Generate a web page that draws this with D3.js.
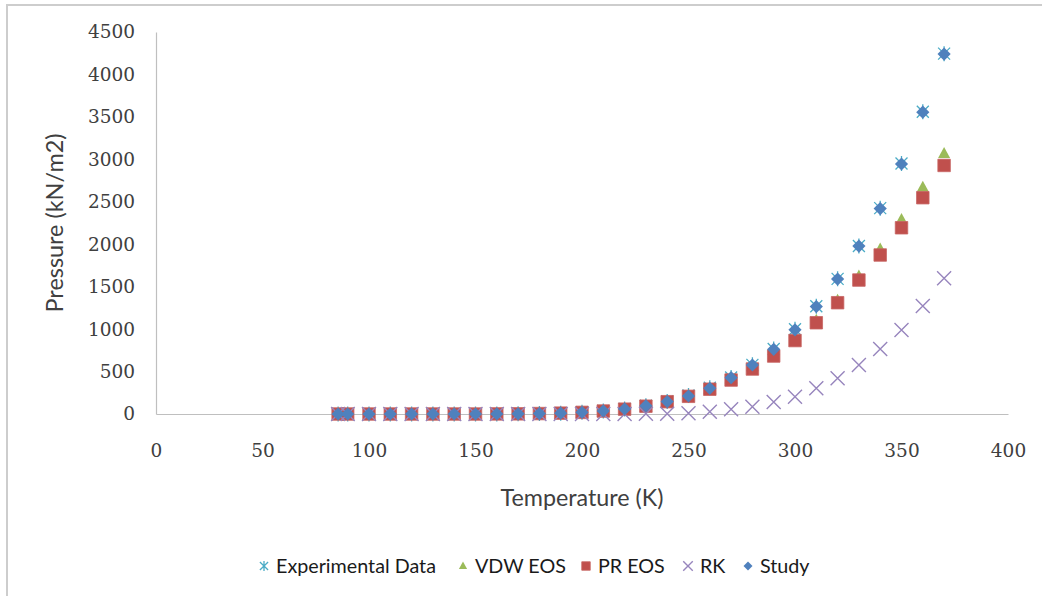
<!DOCTYPE html>
<html>
<head>
<meta charset="utf-8">
<script src="https://cdn.jsdelivr.net/npm/d3@7"></script>
<style>
  html, body { margin: 0; padding: 0; background: #fff; }
  svg { display: block; }
</style>
</head>
<body>
<svg id="chart" width="1042" height="596"></svg>
<script>
// Propane vapour pressure: measured data and equation-of-state predictions
const temperatures = [85.5, 90, 100, 110, 120, 130, 140, 150, 160, 170, 180, 190, 200, 210, 220,
                      230, 240, 250, 260, 270, 280, 290, 300, 310, 320, 330, 340, 350, 360, 370];
const experimentalData = [0, 0, 0, 0, 0, 0, 0.1, 0.3, 1, 2, 5, 10, 20, 35, 60,
                          97, 147, 218, 310, 430, 579, 765, 998, 1270, 1592, 1980, 2425, 2950, 3560, 4245];
const vdwEos = [0, 0, 0, 0, 0, 0, 0, 0, 1, 2, 5, 10, 19, 35, 58,
                94, 148, 215, 300, 415, 550, 705, 885, 1105, 1341, 1625, 1945, 2290, 2670, 3070];
const prEos = [0, 0, 0, 0, 0, 0, 0, 0, 1, 2, 5, 10, 19, 35, 57,
               92, 145, 208, 292, 400, 530, 683, 865, 1075, 1311, 1578, 1873, 2194, 2548, 2928];
const rkEos = [0, 0, 0, 0, 0, 0, 0, 0, 0, 0, 0, 0, 0, 0, 1,
               2, 4, 9, 27, 56, 86, 142, 204, 303, 420, 577, 766, 989, 1272, 1598];
const studyData = [0, 0, 0, 0, 0, 0, 0, 0, 1, 2, 5, 10, 20, 36, 60,
                   96, 146, 212, 303, 428, 577, 762, 992, 1266, 1590, 1978, 2420, 2945, 3555, 4240];

const xTicks = [0, 50, 100, 150, 200, 250, 300, 350, 400];
const yTicks = [0, 500, 1000, 1500, 2000, 2500, 3000, 3500, 4000, 4500];
const seriesNames = ["Experimental Data", "VDW EOS", "PR EOS", "RK", "Study"];

const xTitle = "Temperature (K)";
const yTitle = "Pressure (kN/m2)";

// Marker shapes, centred on the origin
const markerShapes = {
  asterisk: "M-6,-6L6,6M-6,6L6,-6M0,-7.5V7.5",
  triangle: "M0,-6.5L6,4.5L-6,4.5Z",
  square: "M-6.25,-6.25h12.5v12.5h-12.5Z",
  cross: "M-7,-7L7,7M-7,7L7,-7",
  diamond: "M0,-6.6L6.6,0L0,6.6L-6.6,0Z"
};

const series = [
  { name: seriesNames[0], values: experimentalData, shape: "asterisk", fill: "none", stroke: "#4BACC6", width: 1.3 },
  { name: seriesNames[1], values: vdwEos, shape: "triangle", fill: "#9BBB59", stroke: "none", width: 0 },
  { name: seriesNames[2], values: prEos, shape: "square", fill: "#C0504D", stroke: "#c86563", width: 0.8 },
  { name: seriesNames[3], values: rkEos, shape: "cross", fill: "none", stroke: "#9785bd", width: 1.4 },
  { name: seriesNames[4], values: studyData, shape: "diamond", fill: "#4F81BD", stroke: "none", width: 0 }
];

const svg = d3.select("#chart");

// Chart frame (left and top edges)
svg.append("path")
  .attr("d", "M7,600V5H1050")
  .attr("fill", "none")
  .attr("stroke", "#cdcdcd")
  .attr("stroke-width", 2);

const x = d3.scaleLinear().domain([0, 400]).range([156, 1008]);
const y = d3.scaleLinear().domain([0, 4500]).range([414, 32]);

const axisColor = "#bfbfbf";
const tickFont = "'DejaVu Serif', serif";
const textFont = "Lato, 'Open Sans', sans-serif";

// Y axis
const yAxis = svg.append("g")
  .attr("transform", `translate(${x(0)},0)`)
  .call(d3.axisLeft(y).tickValues(yTicks).tickSize(0).tickPadding(21).tickFormat(d3.format("d")));
yAxis.select(".domain").attr("stroke", axisColor).attr("stroke-width", 1.2);
yAxis.selectAll("text")
  .attr("font-family", tickFont)
  .attr("font-size", 18.5)
  .attr("fill", "#404040");

// X axis
const xAxis = svg.append("g")
  .attr("transform", `translate(0,${y(0)})`)
  .call(d3.axisBottom(x).tickValues(xTicks).tickSize(0).tickPadding(30).tickFormat(d3.format("d")));
xAxis.select(".domain").attr("stroke", axisColor).attr("stroke-width", 1.2);
xAxis.selectAll("text")
  .attr("font-family", tickFont)
  .attr("font-size", 18.5)
  .attr("fill", "#404040");

// Scale a text element's font so its rendered length matches the given width
function fitText(sel, target) {
  const w = sel.node().getComputedTextLength();
  const fs = parseFloat(sel.attr("font-size"));
  const size = fs * target / w;
  sel.attr("font-size", size);
  return size;
}

// Axis titles
const xt = svg.append("text")
  .attr("x", 582).attr("y", 506)
  .attr("text-anchor", "middle")
  .attr("font-family", textFont)
  .attr("font-size", 22)
  .attr("fill", "#404040")
  .text(xTitle);
fitText(xt, 163);

const yt = svg.append("text")
  .attr("transform", "translate(63,223) rotate(-90)")
  .attr("text-anchor", "middle")
  .attr("font-family", textFont)
  .attr("font-size", 22)
  .attr("fill", "#404040")
  .text(yTitle);
fitText(yt, 179);

// Data points, one series after another
const plot = svg.append("g");
series.forEach(s => {
  plot.append("g")
    .selectAll("path")
    .data(temperatures.map((t, i) => [t, s.values[i]]))
    .join("path")
    .attr("d", markerShapes[s.shape])
    .attr("transform", d => `translate(${x(d[0])},${y(d[1])})`)
    .attr("fill", s.fill)
    .attr("stroke", s.stroke)
    .attr("stroke-width", s.width);
});

// Legend: one entry per series along the bottom
const legendSlots = [264, 463, 586, 688, 748];
const legendY = 566;
const legend = svg.append("g");
let legendSize = null;
series.forEach((s, i) => {
  const cx = legendSlots[i];
  legend.append("path")
    .attr("d", markerShapes[s.shape])
    .attr("transform", `translate(${cx},${legendY}) scale(0.68)`)
    .attr("fill", s.fill)
    .attr("stroke", s.stroke)
    .attr("stroke-width", s.width / 0.68);
  const label = legend.append("text")
    .attr("x", cx + 12)
    .attr("y", legendY + 7)
    .attr("font-family", textFont)
    .attr("font-size", legendSize || 19)
    .attr("fill", "#1a1a1a")
    .text(s.name);
  if (i === 0) legendSize = fitText(label, 160);
});
</script>
</body>
</html>
